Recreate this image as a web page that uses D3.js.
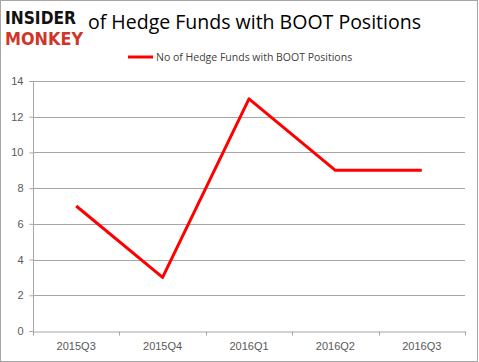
<!DOCTYPE html>
<html><head><meta charset="utf-8">
<script src="https://cdn.jsdelivr.net/npm/d3@7"></script>
<style>body{margin:0;background:#fff}svg{display:block}</style>
</head><body>
<script>
const categories = ["2015Q3","2015Q4","2016Q1","2016Q2","2016Q3"];
const values = [7,3,13,9,9];
const yTicks = [0,2,4,6,8,10,12,14];
const seriesName = "No of Hedge Funds with BOOT Positions";
const titleText = "of Hedge Funds with BOOT Positions";

const W=479,H=362;
const svg=d3.select("body").append("svg").attr("width",W).attr("height",H);
svg.append("rect").attr("x",0.5).attr("y",0.5).attr("width",W-2).attr("height",H-1)
  .attr("fill","#fff").attr("stroke","#a6a6a6");

const m={l:33,r:465,t:81,b:331};
const x=d3.scaleBand().domain(categories).range([m.l,m.r]);
const y=d3.scaleLinear().domain([0,14]).range([m.b,m.t]);

// gridlines
svg.append("g").selectAll("line").data(yTicks.filter(d=>d>0)).join("line")
  .attr("x1",m.l).attr("x2",m.r).attr("y1",d=>Math.round(y(d))+0.5).attr("y2",d=>Math.round(y(d))+0.5)
  .attr("stroke","#a6a6a6").attr("stroke-width",1);

// y axis
const ya=svg.append("g").attr("transform",`translate(${m.l+0.5},0)`)
  .call(d3.axisLeft(y).tickValues(yTicks).tickSize(4).tickPadding(6));
ya.select(".domain").attr("stroke","#a6a6a6").attr("d",`M-4,${m.t+0.5}H0V${m.b+0.5}H-4`);
ya.selectAll(".tick line").attr("stroke","#a6a6a6");
ya.selectAll("text").attr("fill","#595959").style("font-family","'Liberation Sans',Arial,sans-serif").style("font-size","11px");

// x axis
const xa=svg.append("g").attr("transform",`translate(0,${m.b+0.5})`)
  .call(d3.axisBottom(x).tickSize(0).tickPadding(11));
xa.select(".domain").attr("stroke","#a6a6a6");
xa.selectAll("text").attr("fill","#595959").style("font-family","'Liberation Sans',Arial,sans-serif").style("font-size","11px");
const bounds=categories.map(c=>x(c)).concat([m.r]);
xa.append("g").selectAll("line").data(bounds).join("line")
  .attr("x1",d=>Math.round(d)+0.5).attr("x2",d=>Math.round(d)+0.5).attr("y1",0).attr("y2",4)
  .attr("stroke","#a6a6a6");

// line
const line=d3.line().x((d,i)=>x(categories[i])+x.bandwidth()/2).y(d=>y(d));
svg.append("path").datum(values).attr("d",line).attr("fill","none")
  .attr("stroke","#ff0000").attr("stroke-width",3).attr("stroke-linejoin","round");

// legend
svg.append("line").attr("x1",128).attr("x2",153).attr("y1",57).attr("y2",57)
  .attr("stroke","#ff0000").attr("stroke-width",3);
svg.append("text").attr("x",156).attr("y",61).text(seriesName)
  .attr("fill","#404040").style("font-family","'Open Sans',sans-serif").style("font-size","10.5px");

// title
svg.append("text").attr("x",88).attr("y",29).text(titleText)
  .attr("fill","#000").style("font-family","'Open Sans',sans-serif").style("font-size","19.5px")
  .attr("textLength",333).attr("lengthAdjust","spacingAndGlyphs");

// logo
svg.append("text").attr("x",5).attr("y",24).text("INSIDER")
  .attr("fill","#111").style("font-family","'DejaVu Sans',sans-serif").style("font-weight","bold")
  .style("font-size","18px").attr("textLength",71).attr("lengthAdjust","spacingAndGlyphs");
svg.append("text").attr("x",5).attr("y",45).text("MONKEY")
  .attr("fill","#d0352a").style("font-family","'DejaVu Sans',sans-serif").style("font-weight","bold")
  .style("font-size","18px").attr("textLength",78).attr("lengthAdjust","spacingAndGlyphs");
</script>
</body></html>
